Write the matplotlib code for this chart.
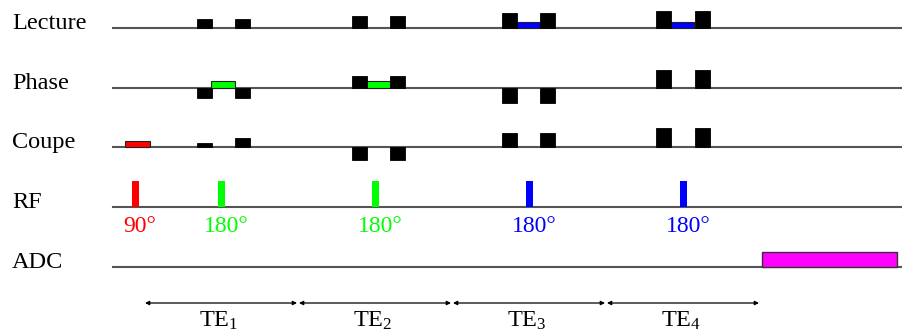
import matplotlib.pyplot as plt
import numpy as np

plt.rcParams['font.family'] = 'Liberation Serif'
plt.rcParams['mathtext.fontset'] = 'custom'
plt.rcParams['mathtext.rm'] = 'Liberation Serif'
plt.rcParams['mathtext.it'] = 'Liberation Serif:italic'

# channels of the sequence (top to bottom)
channels = ["Lecture", "Phase", "Coupe", "RF", "ADC"]

# gradient lobes: start time and amplitude for each channel
lobe_starts = [197, 235, 352, 390, 502, 540, 656, 695]
lecture_amp = [9, 9, 12, 12, 15, 15, 17, 17]
phase_amp = [-10, -10, 12, 12, -15, -15, 18, 18]
coupe_amp = [4, 9, -13, -13, 14, 14, 19, 19]

# readout (blue) on Lecture, phase blips (green) on Phase
readout_starts = [516, 670]
readout_amp = [6, 6]
blip_starts = [211, 366]
blip_amp = [7, 7]

# slice selection for the 90 deg pulse
slice_start, slice_end, slice_amp = 125, 150, 6

# RF pulses
rf_times = [135, 221.5, 375.5, 529, 683]
rf_labels = ["90°", "180°", "180°", "180°", "180°"]
rf_colors = ["#ff0000", "#00ff00", "#00ff00", "#0000ff", "#0000ff"]
rf_amp = 26

# ADC window
adc_start, adc_end, adc_amp = 762, 897, 15

# echo times
te_bounds = [144, 298, 452, 606, 760]
te_labels = ["TE$_1$", "TE$_2$", "TE$_3$", "TE$_4$"]

# layout
baselines = [28, 88, 147, 207, 267]
lobe_w = 14.5
line_color = '#555555'

fig = plt.figure(figsize=(9.02, 3.31), dpi=100)
ax = fig.add_axes([0, 0, 1, 1])
ax.set_xlim(0, 902)
ax.set_ylim(331, 0)
ax.axis('off')

# baselines and channel names
for name, y in zip(channels, baselines):
    ax.plot([113, 902], [y, y], color=line_color, lw=1.5, zorder=1)
    ax.text(12, y + 1, name, fontsize=17.5, va='baseline', ha='left', color='black')

# gradient lobes
for amps, y in zip([lecture_amp, phase_amp, coupe_amp], baselines[:3]):
    ax.bar(lobe_starts, -np.array(amps), width=lobe_w, bottom=y, align='edge',
           color='black', edgecolor='black', lw=0.6, zorder=3)

ax.bar(readout_starts, -np.array(readout_amp), width=24, bottom=baselines[0],
       align='edge', color='#0000ff', edgecolor='#222222', lw=0.8, zorder=2)
ax.bar(blip_starts, -np.array(blip_amp), width=24, bottom=baselines[1],
       align='edge', color='#00ff00', edgecolor='#222222', lw=0.8, zorder=2)
ax.bar([slice_start], [-slice_amp], width=slice_end - slice_start, bottom=baselines[2],
       align='edge', color='#ff0000', edgecolor='#222222', lw=0.8, zorder=2)

# RF pulses and flip angles
ax.bar(rf_times, [-rf_amp] * len(rf_times), width=7, bottom=baselines[3],
       color=rf_colors, zorder=2)
for t, lab, c in zip(rf_times, rf_labels, rf_colors):
    ax.text(t + 5, baselines[3] + 25, lab, color=c, fontsize=17,
            ha='center', va='baseline')

# ADC
ax.bar([adc_start], [-adc_amp], width=adc_end - adc_start, bottom=baselines[4],
       align='edge', color='#ff00ff', edgecolor='#333333', lw=1.0, zorder=2)

# TE arrows
arrow_y = 303
for i, lab in enumerate(te_labels):
    x0, x1 = te_bounds[i] + 1, te_bounds[i + 1] - 1
    ax.annotate('', xy=(x1, arrow_y), xytext=(x0, arrow_y),
                arrowprops=dict(arrowstyle='<|-|>', color='black', lw=0.9,
                                mutation_scale=6, shrinkA=0, shrinkB=0))
    ax.text((x0 + x1) / 2 - 2, 327, lab, fontsize=17.5, ha='center', va='baseline')

fig.savefig('out.png', dpi=100)
